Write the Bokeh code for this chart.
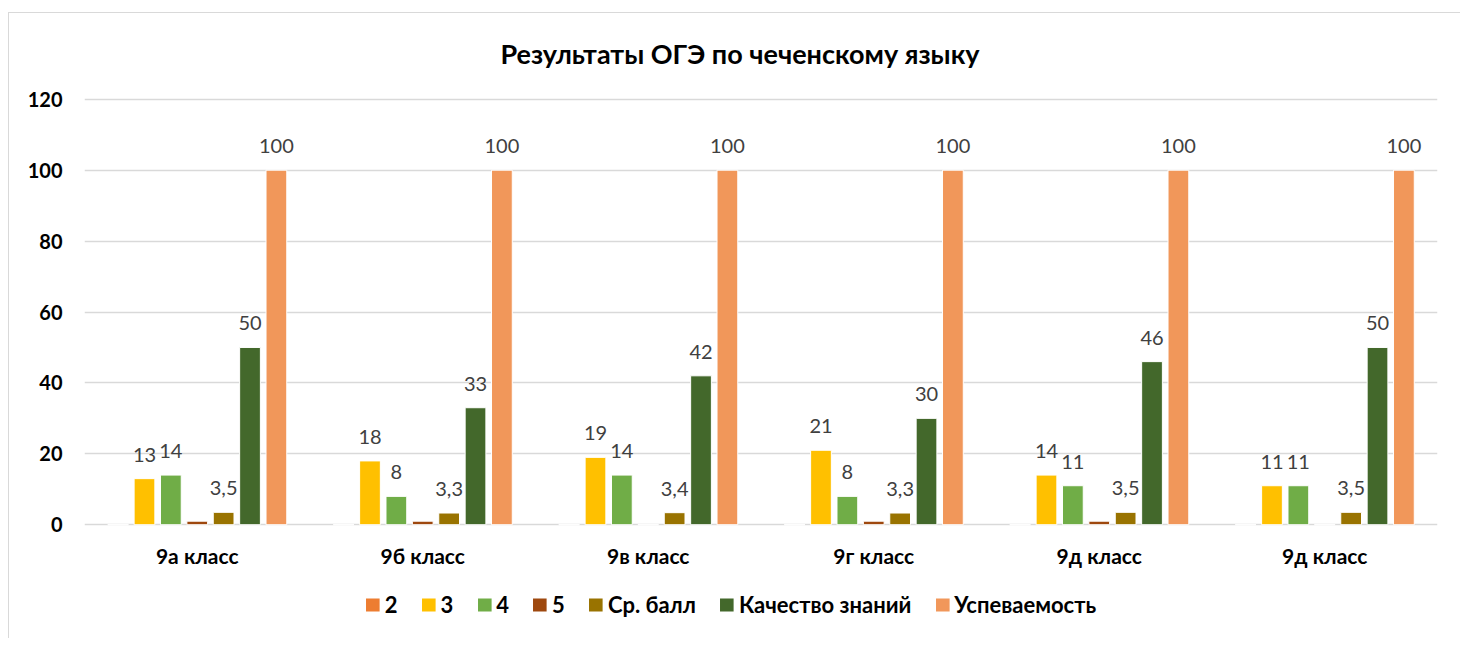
from bokeh.plotting import figure
from bokeh.layouts import column
from bokeh.models import (ColumnDataSource, Range1d, FixedTicker, LabelSet,
                          Legend, LegendItem, InlineStyleSheet)
from bokeh.core.properties import value
from bokeh.embed import file_html
from bokeh.resources import INLINE

title_text = "Результаты ОГЭ по чеченскому языку"
classes = ["9а класс", "9б класс", "9в класс", "9г класс", "9д класс", "9д класс"]
series_names = ["2", "3", "4", "5", "Ср. балл", "Качество знаний", "Успеваемость"]
colors = ["#ED7D31", "#FFC000", "#70AD47", "#9E480E", "#997300", "#43682B", "#F1975A"]

s2 = [0, 0, 0, 0, 0, 0]
s3 = [13, 18, 19, 21, 14, 11]
s4 = [14, 8, 14, 8, 11, 11]
s5 = [1, 1, 0, 1, 1, 0]
avg = [3.5, 3.3, 3.4, 3.3, 3.5, 3.5]
quality = [50, 33, 42, 30, 46, 50]
success = [100, 100, 100, 100, 100, 100]
series_values = [s2, s3, s4, s5, avg, quality, success]
labelled = [False, True, True, False, True, True, True]

FONT = "Lato"

p = figure(frame_width=1353, frame_height=429, output_backend="svg", toolbar_location=None,
           x_range=Range1d(-0.5, 5.5), y_range=Range1d(-0.5, 120.5),
           min_border_left=84, min_border_right=23, min_border_top=97,
           min_border_bottom=40)
p.border_fill_color = None
p.background_fill_color = None
p.outline_line_color = None

p.title.text = title_text
p.title.align = "left"
p.title.offset = 416
p.title.text_font = FONT
p.title.text_font_size = "27px"
p.title.text_font_style = "bold"
p.title.text_color = "#000000"
p.title.standoff = 55

slot = 0.117
bw = 0.092
xs_base = list(range(len(classes)))
for i, (name, vals, col, lab) in enumerate(zip(series_names, series_values, colors, labelled)):
    off = (i - 3) * slot
    xs = [x + off for x in xs_base]
    txt = [("%g" % v).replace(".", ",") for v in vals]
    src = ColumnDataSource(dict(x=xs, top=vals, txt=txt))
    p.vbar(x="x", top="top", width=bw, bottom=0, source=src,
           fill_color=col, line_color="white", line_width=1)
    if lab:
        ls = LabelSet(x="x", y="top", text="txt", source=src,
                      text_align="center", text_baseline="bottom", y_offset=17,
                      text_font=value(FONT), text_font_size=value("20px"),
                      text_color="#404040")
        p.add_layout(ls)

p.xaxis.ticker = FixedTicker(ticks=xs_base)
p.xaxis.major_label_overrides = {i: c for i, c in enumerate(classes)}
p.yaxis.ticker = FixedTicker(ticks=[0, 20, 40, 60, 80, 100, 120])
for ax in (p.xaxis, p.yaxis):
    ax.axis_line_color = None
    ax.major_tick_line_color = None
    ax.minor_tick_line_color = None
    ax.major_label_text_font = FONT
    ax.major_label_text_font_style = "bold"
    ax.major_label_text_color = "#000000"
p.xaxis.major_label_text_font_size = "21px"
p.yaxis.major_label_text_font_size = "20px"
p.xaxis.major_label_standoff = 10
p.yaxis.major_label_standoff = 16

p.xgrid.grid_line_color = None
p.ygrid.grid_line_color = "#d9d9d9"
p.ygrid.grid_line_width = 1.5

# legend strip below the chart (swatch renderers carry a single zero-height bar)
lg = figure(frame_width=1460, frame_height=68, output_backend="svg", toolbar_location=None,
            x_range=Range1d(0, 1), y_range=Range1d(0, 1),
            min_border_left=0, min_border_right=0, min_border_top=0, min_border_bottom=0)
lg.border_fill_color = None
lg.background_fill_color = None
lg.outline_line_color = None
lg.axis.visible = False
lg.grid.visible = False
items = []
for name, col in zip(series_names, colors):
    r = lg.vbar(x=[-1], top=[0], width=0.1, fill_color=col, line_color=None)
    items.append(LegendItem(label=name, renderers=[r]))
legend = Legend(items=items, orientation="horizontal", location="center",
                border_line_color=None, background_fill_alpha=0,
                label_text_font=FONT, label_text_font_style="bold",
                label_text_font_size="22px", label_text_color="#000000",
                glyph_width=17, glyph_height=16, label_standoff=4, spacing=22,
                label_width=0, margin=0, padding=5)
lg.add_layout(legend, "center")

layout = column(p, lg, spacing=0)
layout.stylesheets = [InlineStyleSheet(css=(
    ":host { background:"
    " linear-gradient(#d9d9d9,#d9d9d9) 8px 12px / 1px calc(100% - 12px) no-repeat,"
    " linear-gradient(#d9d9d9,#d9d9d9) 8px 12px / calc(100% - 8px) 1px no-repeat,"
    " #ffffff; }"))]

open("out.html", "w").write(file_html(layout, INLINE))
